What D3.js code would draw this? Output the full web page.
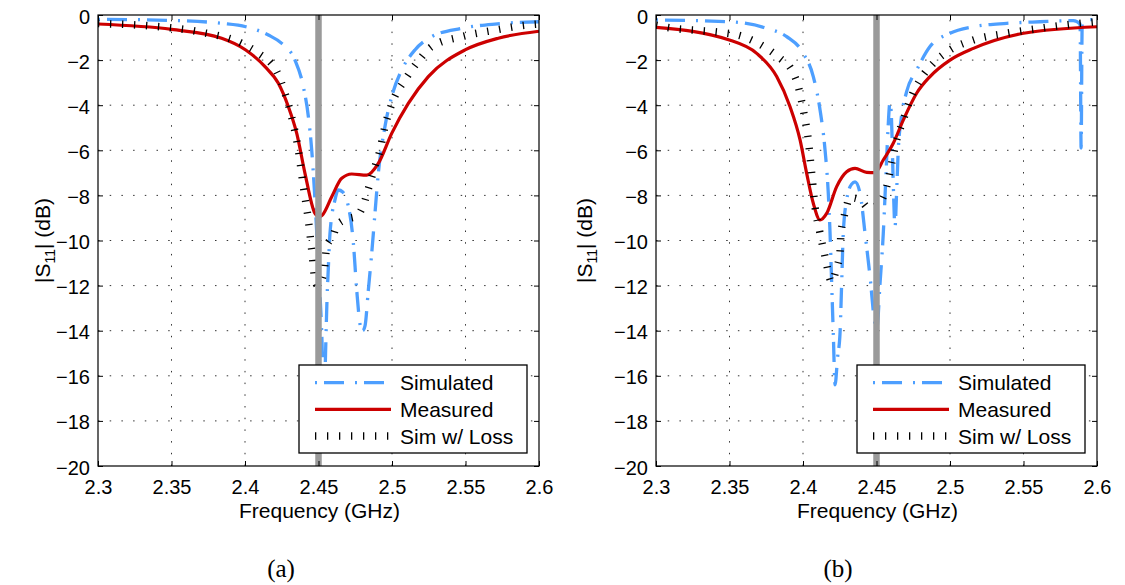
<!DOCTYPE html>
<html>
<head>
<meta charset="utf-8">
<script src="https://cdn.jsdelivr.net/npm/d3@7"></script>
<style>
  html, body { margin: 0; padding: 0; background: #fff; }
  svg { display: block; }
</style>
</head>
<body>
<script>
// ---------- DATA (frequency GHz, |S11| dB) ----------
const xTicks = [2.3, 2.35, 2.4, 2.45, 2.5, 2.55, 2.6];
const xTickLabels = ["2.3", "2.35", "2.4", "2.45", "2.5", "2.55", "2.6"];
const yTicks = [0, -2, -4, -6, -8, -10, -12, -14, -16, -18, -20];
const yTickLabels = ["0", "\u22122", "\u22124", "\u22126", "\u22128", "\u221210", "\u221212", "\u221214", "\u221216", "\u221218", "\u221220"];
const seriesNames = ["Simulated", "Measured", "Sim w/ Loss"];
const captions = ["(a)", "(b)"];
const markerFreq = 2.45;

// Panel (a)
const simA = [[2.300,-0.19],[2.350,-0.24],[2.384,-0.37],[2.4005,-0.52],[2.4159,-0.89],[2.425,-1.26],[2.434,-2.0],
  [2.4397,-3.18],[2.4431,-4.5],[2.4454,-6.0],[2.4476,-8.2],[2.450,-11.2],[2.4522,-14.1],[2.4538,-17.5],[2.4548,-15.0],
  [2.4558,-12.6],[2.4567,-11.2],[2.4578,-9.7],[2.4612,-8.2],[2.4635,-7.76],[2.4665,-7.85],[2.4692,-8.2],[2.4737,-10.1],
  [2.476,-12.2],[2.4785,-13.8],[2.480,-14.0],[2.4816,-13.8],[2.4839,-12.2],[2.4862,-10.57],[2.4884,-8.8],[2.4907,-7.02],
  [2.4952,-4.95],[2.4998,-3.62],[2.5066,-2.44],[2.5156,-1.55],[2.527,-0.96],[2.5474,-0.59],[2.57,-0.4],[2.6,-0.3]];
const measA = [[2.300,-0.40],[2.3501,-0.64],[2.3841,-1.03],[2.4005,-1.55],[2.4136,-2.29],[2.4227,-3.03],[2.4295,-4.07],
  [2.4352,-5.25],[2.4408,-7.02],[2.4476,-8.80],[2.4505,-8.95],[2.4526,-8.87],[2.459,-8.06],[2.4658,-7.24],[2.4726,-7.05],
  [2.4828,-7.10],[2.4907,-6.58],[2.4998,-5.25],[2.5111,-3.92],[2.5247,-2.73],[2.5497,-1.55],[2.5723,-1.03],[2.6,-0.72]];
const lossA = [[2.300,-0.38],[2.3365,-0.49],[2.3682,-0.74],[2.400,-1.33],[2.4091,-1.7],[2.4216,-2.51],[2.4272,-3.47],
  [2.4317,-4.51],[2.4363,-5.99],[2.4397,-7.61],[2.4431,-9.09],[2.4454,-10.42],[2.4476,-11.75],[2.4495,-12.0],
  [2.4537,-11.4],[2.4556,-10.27],[2.4597,-9.83],[2.4628,-9.31],[2.4692,-9.05],[2.4764,-8.9],[2.4805,-8.43],[2.485,-7.46],
  [2.4873,-6.95],[2.4918,-6.0],[2.4952,-4.95],[2.5009,-3.77],[2.5088,-2.88],[2.5168,-2.14],[2.527,-1.4],[2.5474,-0.96],
  [2.57,-0.67],[2.5927,-0.44],[2.6,-0.4]];

// Panel (b)
const simB = [[2.300,-0.22],[2.3499,-0.30],[2.3753,-0.59],[2.3889,-0.96],[2.4002,-1.70],[2.407,-2.73],[2.4116,-4.21],
  [2.415,-5.99],[2.4172,-7.9],[2.4184,-9.68],[2.4195,-11.9],[2.4206,-14.1],[2.4218,-16.4],[2.4235,-15.2],[2.4252,-14.1],
  [2.4263,-11.9],[2.4274,-9.68],[2.4297,-8.2],[2.4331,-7.5],[2.4354,-7.4],[2.4388,-7.9],[2.4422,-9.68],[2.4456,-11.6],
  [2.449,-13.7],[2.4503,-13.85],[2.4524,-11.9],[2.4546,-9.7],[2.4565,-7.0],[2.4578,-5.1],[2.4592,-3.85],[2.4602,-4.6],
  [2.4612,-7.0],[2.4626,-9.4],[2.4636,-8.0],[2.4648,-6.0],[2.4668,-4.6],[2.4705,-3.4],[2.4773,-2.44],[2.4864,-1.4],
  [2.500,-0.81],[2.5159,-0.52],[2.5386,-0.37],[2.5612,-0.30],[2.5839,-0.25],[2.5885,-0.4],[2.5892,-5.9],[2.5899,-0.4],
  [2.592,-0.22],[2.6,-0.2]];
const measB = [[2.300,-0.55],[2.3499,-1.11],[2.3685,-1.70],[2.3821,-2.73],[2.3912,-4.07],[2.398,-5.54],[2.4025,-7.02],
  [2.407,-8.35],[2.4116,-9.09],[2.4161,-8.8],[2.4229,-7.61],[2.4297,-6.95],[2.4354,-6.8],[2.4433,-6.98],[2.449,-6.99],
  [2.4546,-6.43],[2.4614,-5.69],[2.4682,-4.66],[2.4773,-3.47],[2.4864,-2.73],[2.500,-2.0],[2.5159,-1.48],[2.5501,-0.81],
  [2.6,-0.52]];
const lossB = [[2.300,-0.45],[2.3116,-0.59],[2.3279,-0.68],[2.3435,-0.77],[2.3594,-0.96],[2.3673,-1.18],[2.3753,-1.48],
  [2.3844,-1.92],[2.3923,-2.44],[2.3968,-3.18],[2.4002,-4.21],[2.4036,-5.54],[2.4059,-7.02],[2.4082,-8.5],[2.4116,-9.68],
  [2.415,-10.72],[2.4195,-11.83],[2.4225,-11.3],[2.4252,-10.5],[2.4258,-9.68],[2.4272,-9.17],[2.429,-8.65],[2.432,-8.1],
  [2.4388,-8.2],[2.4449,-8.57],[2.4524,-8.3],[2.4569,-7.61],[2.4603,-6.58],[2.4637,-5.54],[2.4682,-4.66],[2.4728,-3.77],
  [2.4796,-2.88],[2.4887,-2.14],[2.500,-1.55],[2.5159,-1.11],[2.5386,-0.81],[2.5612,-0.59],[2.5839,-0.4],[2.6,-0.3]];

// ---------- RENDER ----------
const W = 1125, H = 585;
const FONT = "'Liberation Sans', Arial, Helvetica, sans-serif";
const C_SIM = "#4d9fff", C_MEAS = "#cc0000", C_LOSS = "#000000", C_MARK = "#9a9a9a";

const svg = d3.select("body").append("svg").attr("width", W).attr("height", H)
  .style("font-family", FONT);

const panels = [
  { left: 98, right: 539, sim: simA, meas: measA, loss: lossA, cap: captions[0], capX: 281, ylabX: 50 },
  { left: 656, right: 1097, sim: simB, meas: measB, loss: lossB, cap: captions[1], capX: 838, ylabX: 592 }
];
const plotTop = 15, plotBottom = 466;

function styleSim(sel) {
  return sel.attr("fill", "none").attr("stroke", C_SIM).attr("stroke-width", 3.3)
    .attr("stroke-dasharray", "2,7,20,11");
}
function styleMeas(sel) {
  return sel.attr("fill", "none").attr("stroke", C_MEAS).attr("stroke-width", 3.2);
}
function styleLoss(sel) {
  return sel.attr("fill", "none").attr("stroke", C_LOSS).attr("stroke-width", 7.5)
    .attr("stroke-dasharray", "1.3,10.7");
}

panels.forEach((p, i) => {
  const x = d3.scaleLinear().domain([2.3, 2.6]).range([p.left, p.right]);
  const y = d3.scaleLinear().domain([-20, 0]).range([plotBottom, plotTop]);
  const g = svg.append("g");

  const clipId = "clip" + i;
  svg.append("clipPath").attr("id", clipId).append("rect")
    .attr("x", p.left).attr("y", plotTop).attr("width", p.right - p.left).attr("height", plotBottom - plotTop);

  // Grid
  const grid = g.append("g").attr("stroke", "#333").attr("stroke-width", 1).attr("stroke-dasharray", "1.5,10.2");
  xTicks.slice(1, -1).forEach(v => {
    grid.append("line").attr("x1", x(v)).attr("x2", x(v)).attr("y1", plotBottom).attr("y2", plotTop);
  });
  yTicks.slice(1, -1).forEach(v => {
    grid.append("line").attr("x1", p.left).attr("x2", p.right).attr("y1", y(v)).attr("y2", y(v));
  });

  // Curves
  const line = d3.line().x(d => x(d[0])).y(d => y(d[1])).curve(d3.curveMonotoneX);
  const cg = g.append("g").attr("clip-path", `url(#${clipId})`);
  cg.append("path").attr("d", line(p.sim)).call(styleSim);
  cg.append("path").attr("d", line(p.meas)).call(styleMeas);
  cg.append("path").attr("d", line(p.loss)).call(styleLoss);
  // Marker at 2.45 GHz
  cg.append("line").attr("x1", x(markerFreq)).attr("x2", x(markerFreq)).attr("y1", plotTop).attr("y2", plotBottom)
    .attr("stroke", C_MARK).attr("stroke-width", 6.5);

  // Axes
  const fmtX = (d) => xTickLabels[xTicks.indexOf(d)];
  const fmtY = (d) => yTickLabels[yTicks.indexOf(d)];
  const ax = g.append("g").attr("transform", `translate(0,${plotBottom})`)
    .call(d3.axisBottom(x).tickValues(xTicks).tickFormat(fmtX).tickSizeInner(-5).tickSizeOuter(0).tickPadding(13.5));
  const ay = g.append("g").attr("transform", `translate(${p.left},0)`)
    .call(d3.axisLeft(y).tickValues(yTicks).tickFormat(fmtY).tickSizeInner(-5).tickSizeOuter(0).tickPadding(8));
  const at = g.append("g").attr("transform", `translate(0,${plotTop})`)
    .call(d3.axisTop(x).tickValues(xTicks).tickFormat(() => "").tickSizeInner(-5).tickSizeOuter(0));
  const ar = g.append("g").attr("transform", `translate(${p.right},0)`)
    .call(d3.axisRight(y).tickValues(yTicks).tickFormat(() => "").tickSizeInner(-5).tickSizeOuter(0));
  [ax, ay, at, ar].forEach(a => {
    a.select(".domain").remove();
    a.selectAll(".tick line").attr("stroke", "#000").attr("stroke-width", 1);
    a.selectAll(".tick text").attr("font-family", FONT).attr("font-size", 20).attr("fill", "#000");
  });
  ay.selectAll(".tick text").attr("dy", "0.40em");

  // Frame
  g.append("rect").attr("x", p.left).attr("y", plotTop).attr("width", p.right - p.left).attr("height", plotBottom - plotTop)
    .attr("fill", "none").attr("stroke", "#000").attr("stroke-width", 1.2);

  // Legend
  const lx0 = p.left + (p.right - p.left) * (201 / 441);
  const lw = 228, ly0 = 365, lh = 88;
  const lg = g.append("g");
  lg.append("rect").attr("x", lx0).attr("y", ly0).attr("width", lw).attr("height", lh)
    .attr("fill", "#fff").attr("stroke", "#000").attr("stroke-width", 1.3);
  const rowsY = [382.7, 409.3, 436];
  const styles = [styleSim, styleMeas, styleLoss];
  seriesNames.forEach((name, k) => {
    lg.append("line").attr("x1", lx0 + 16).attr("x2", lx0 + 92).attr("y1", rowsY[k]).attr("y2", rowsY[k]).call(styles[k]);
    lg.append("text").attr("x", lx0 + 101).attr("y", rowsY[k] + 7.5).attr("font-size", 21).attr("fill", "#000").text(name);
  });

  // Axis labels
  g.append("text").attr("x", (p.left + p.right) / 2 + 1).attr("y", 518).attr("text-anchor", "middle")
    .attr("font-size", 21).attr("fill", "#000").text("Frequency (GHz)");
  const yl = g.append("text").attr("transform", `translate(${p.ylabX},${(plotTop + plotBottom) / 2}) rotate(-90)`)
    .attr("text-anchor", "middle").attr("font-size", 21).attr("fill", "#000");
  yl.append("tspan").text("|S");
  yl.append("tspan").attr("font-size", 14).attr("dy", 5).text("11");
  yl.append("tspan").attr("dy", -5).text("| (dB)");

  // Caption
  g.append("text").attr("x", p.capX).attr("y", 577).attr("text-anchor", "middle")
    .attr("font-family", "'Liberation Serif', 'DejaVu Serif', serif").attr("font-size", 25).attr("fill", "#000")
    .text(p.cap);
});
</script>
</body>
</html>
